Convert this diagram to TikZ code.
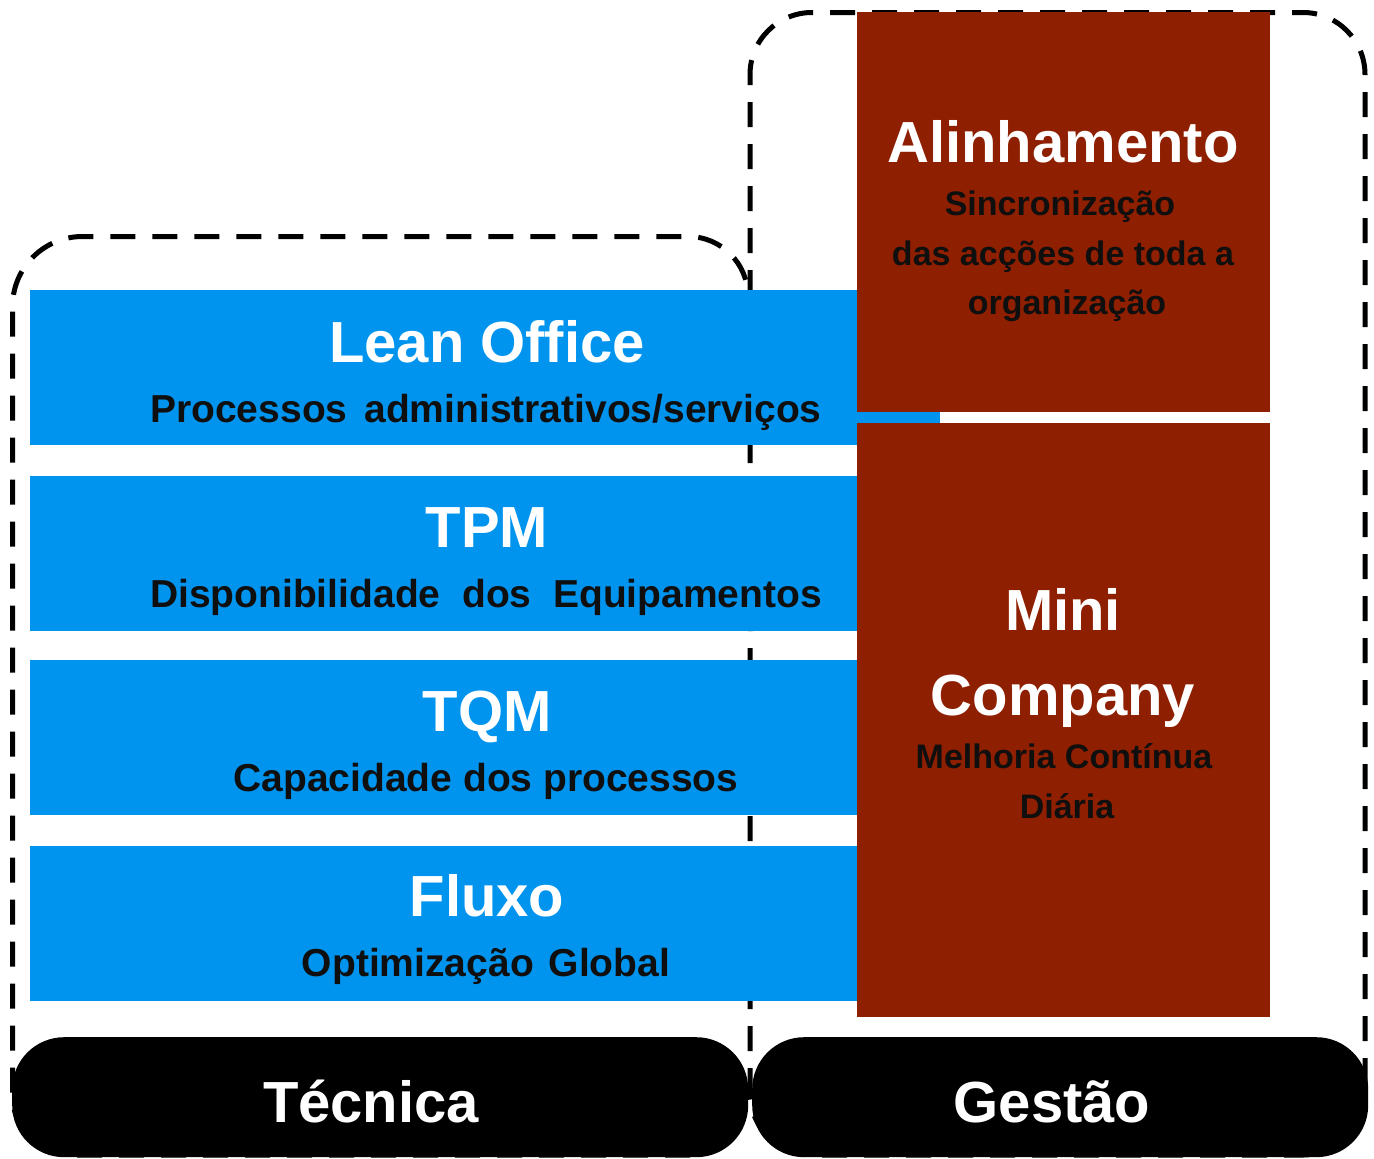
\documentclass[tikz,border=0pt]{standalone}
\usepackage{fontspec}
\setmainfont{Liberation Sans}
\definecolor{barblue}{RGB}{0,148,238}
\definecolor{boxred}{RGB}{142,31,0}
\definecolor{subtxt}{RGB}{15,15,15}
\newcommand\myfs[1]{\fontsize{#1}{#1}\selectfont\bfseries}
\tikzset{
  dashbox/.style={draw=black, line width=5pt, dash pattern=on 25pt off 17pt},
  bar/.style={fill=barblue, draw=none, inner sep=0pt, anchor=north west, minimum width=827pt, minimum height=155pt},
  redbox/.style={fill=boxred, draw=none, inner sep=0pt, anchor=north west, minimum width=413pt},
  pill/.style={fill=black, draw=none, inner sep=0pt, anchor=north west, rounded corners=52pt, minimum height=120pt},
  title/.style={text=white, inner sep=0pt, anchor=base, font=\myfs{58}},
  subt/.style={text=subtxt, inner sep=0pt, anchor=base, font=\myfs{39}},
  rsub/.style={text=subtxt, inner sep=0pt, anchor=base, font=\myfs{34}},
}
\begin{document}
\begin{tikzpicture}[x=1pt,y=-1pt]
\useasboundingbox[fill=white] (0,0) rectangle (1374,1159);
% dashed outlines
\draw[dashbox, rounded corners=60pt] (690,1155) -- (12.5,1155) [rounded corners=70pt] -- (12.5,236.5) [rounded corners=60pt] -- (748,236.5) -- (748,300);
\draw[dashbox, rounded corners=62pt] (750,1155) -- (750,12.5) -- (1365,12.5) -- (1365,1155) -- cycle;
% blue bars
\node[bar] (lean) at (30,290) {};
\node[bar] (tpm) at (30,476) {};
\node[bar] (tqm) at (30,660) {};
\node[bar] (fluxo) at (30,846) {};
% red boxes
\node[redbox, minimum height=400pt] (alin) at (857,12) {};
\node[redbox, minimum height=594pt] (mini) at (857,423) {};
\node[fill=barblue, inner sep=0pt, anchor=north west, minimum width=83pt, minimum height=11pt] (strip) at (857,412) {};
% pills
\node[pill, minimum width=736pt] (tec) at (12,1037) {};
\node[pill, minimum width=616pt] (ges) at (752,1037) {};
% texts blue
\node[title] (t1) at (487,362) {Lean Office};
\node[subt] (s1) at (486,422) {Processos\hspace{6pt} administrativos/serviços};
\node[title] (t2) at (487,547) {TPM};
\node[subt] (s2) at (486,607) {Disponibilidade\ \ dos\ \ Equipamentos};
\node[title] (t3) at (487,731) {TQM};
\node[subt] (s3) at (486,791) {Capacidade dos processos};
\node[title] (t4) at (487,916) {Fluxo};
\node[subt] (s4) at (486,976) {Optimização\hspace{4pt} Global};
% texts red
\node[title] (ta) at (1063,162) {Alinhamento};
\node[rsub] (sa1) at (1060,215) {Sincronização};
\node[rsub] (sa2) at (1063,265) {das acções de toda a};
\node[rsub] (sa3) at (1067,314) {organização};
\node[title] (tm1) at (1063,630) {Mini};
\node[title] (tm2) at (1063,715) {Company};
\node[rsub] (sm1) at (1064,768) {Melhoria Contínua};
\node[rsub] (sm2) at (1067,818) {Diária};
% pill labels
\node[title] (lt) at (371,1122) {Técnica};
\node[title] (lg) at (1052,1122) {Gestão};
\end{tikzpicture}
\end{document}
